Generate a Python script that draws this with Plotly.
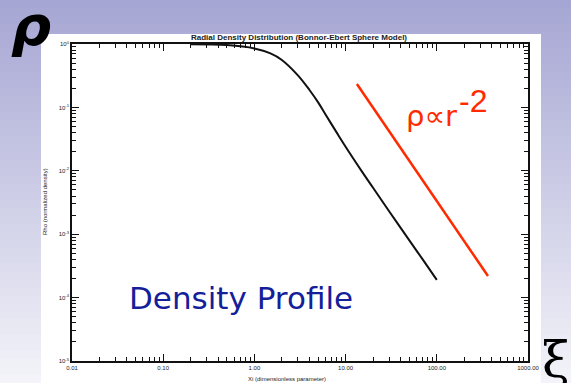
import plotly.graph_objects as go

# ---- data ----
xi_vals = [0.2, 0.5, 1.0, 1.5, 2.0, 3.0, 4.0, 5.0, 6.0, 8.0, 10.0, 15.0, 20.0, 30.0, 50.0, 70.0, 100.0]
rho_vals = [0.995, 0.96, 0.85, 0.71, 0.56, 0.32, 0.19, 0.12, 0.078, 0.040, 0.024, 0.0099, 0.0054, 0.0023, 0.00080, 0.00040, 0.00019]

slope_xi = [13.3, 364.0]
slope_rho = [0.234, 0.000219]

x_tick_vals = [0.01, 0.1, 1, 10, 100, 1000]
x_tick_text = ["0.01", "0.10", "1.00", "10.00", "100.00", "1000.00"]
y_tick_vals = [1e-5, 1e-4, 1e-3, 1e-2, 1e-1, 1]
y_tick_text = ["10<sup>-5</sup>", "10<sup>-4</sup>", "10<sup>-3</sup>", "10<sup>-2</sup>", "10<sup>-1</sup>", "10<sup>0</sup>"]

W, H = 571, 383
L, R, T, B = 72, 528, 44, 361


def px(x):
    return (x - L) / (R - L)


def py(y):
    return (B - y) / (B - T)


fig = go.Figure()
fig.add_trace(go.Scatter(x=xi_vals, y=rho_vals, mode="lines",
                         line=dict(color="#111111", width=2, shape="spline", smoothing=1.0),
                         showlegend=False, hoverinfo="skip"))
fig.add_trace(go.Scatter(x=slope_xi, y=slope_rho, mode="lines",
                         line=dict(color="#ff2a00", width=2.5),
                         showlegend=False, hoverinfo="skip"))

shapes = []
n = 48
c0 = (166, 166, 212)
c1 = (243, 243, 249)
for i in range(n):
    t = i / (n - 1)
    col = tuple(round(c0[k] + (c1[k] - c0[k]) * t) for k in range(3))
    y0 = H * i / n
    y1 = H * (i + 1) / n + 1
    shapes.append(dict(type="rect", xref="paper", yref="paper", layer="below",
                       x0=px(-2), x1=px(W + 2), y0=py(y1), y1=py(y0),
                       line=dict(width=0), fillcolor="rgb(%d,%d,%d)" % col))
shapes.append(dict(type="rect", xref="paper", yref="paper", layer="below",
                   x0=px(41), x1=px(541), y0=py(W), y1=py(34),
                   line=dict(width=0), fillcolor="white"))

annotations = [
    dict(text="<b>Radial Density Distribution (Bonnor-Ebert Sphere Model)</b>", x=px(299), y=py(38),
         font=dict(size=8, color="#222", family="Liberation Sans"), xanchor="center", yanchor="middle"),
    dict(text="Rho (normalized density)", x=px(45), y=py(202), textangle=-90,
         font=dict(size=6, color="#222", family="Liberation Sans"), xanchor="center", yanchor="middle"),
    dict(text="Xi (dimensionless parameter)", x=px(287), y=py(379),
         font=dict(size=6, color="#222", family="Liberation Sans"), xanchor="center", yanchor="middle"),
    dict(text="Density Profile", x=px(241), y=py(298),
         font=dict(size=31, color="#14209a", family="DejaVu Sans"), xanchor="center", yanchor="middle"),
    dict(text="ρ∝r", x=px(431), y=py(116),
         font=dict(size=29, color="#ff2a00", family="DejaVu Sans"), xanchor="center", yanchor="middle"),
    dict(text="-2", x=px(473), y=py(101),
         font=dict(size=32, color="#ff2a00", family="Liberation Sans"), xanchor="center", yanchor="middle"),
    dict(text="<b><i>ρ</i></b>", x=px(31), y=py(26),
         font=dict(size=56, color="black", family="DejaVu Sans"), xanchor="center", yanchor="middle"),
    dict(text="ξ", x=px(556), y=py(360),
         font=dict(size=50, color="black", family="DejaVu Serif"), xanchor="center", yanchor="middle"),
]
for a in annotations:
    a.update(xref="paper", yref="paper", showarrow=False)

minor_x = [m * 10 ** e for e in range(-2, 3) for m in range(2, 10)]
minor_y = [m * 10 ** e for e in range(-5, 0) for m in range(2, 10)]

axis_common = dict(type="log", showgrid=False, zeroline=False, showline=True,
                   linecolor="#111", linewidth=1.5, mirror="ticks", ticks="inside",
                   tickcolor="#111", tickwidth=1, ticklen=7, tickmode="array",
                   tickfont=dict(size=6, color="#222", family="Liberation Sans"))

fig.update_layout(
    width=W, height=H,
    margin=dict(l=L, r=W - R, t=T, b=H - B, pad=0),
    paper_bgcolor="white", plot_bgcolor="rgba(0,0,0,0)",
    shapes=shapes, annotations=annotations,
    xaxis=dict(axis_common, range=[-2, 3], tickvals=x_tick_vals, ticktext=x_tick_text,
               minor=dict(ticks="inside", ticklen=4, tickcolor="#111", tickmode="array",
                          tickvals=minor_x, showgrid=False)),
    yaxis=dict(axis_common, range=[-5, 0], tickvals=y_tick_vals, ticktext=y_tick_text,
               minor=dict(ticks="inside", ticklen=4, tickcolor="#111", tickmode="array",
                          tickvals=minor_y, showgrid=False)),
)

fig.write_html("out.html")
